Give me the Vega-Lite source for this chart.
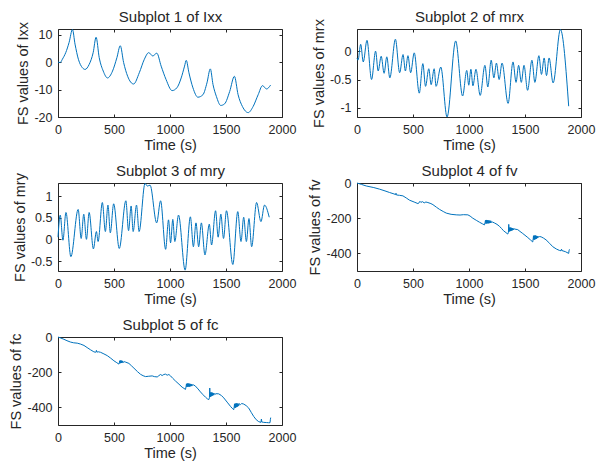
{
  "$schema": "https://vega.github.io/schema/vega-lite/v6.json",
  "padding": {"left": 8, "top": 9, "right": 5, "bottom": 0},
  "background": "white",
  "datasets": {
    "lxx": [
      {"t":0,"v":0},{"t":20,"v":-0.2},{"t":39,"v":1.0},{"t":69,"v":3.4},{"t":99,"v":7.1},{"t":129,"v":11.8},{"t":152,"v":6.5},{"t":182,"v":1.0},{"t":218,"v":-2.1},{"t":242,"v":-2.7},{"t":278,"v":-0.9},{"t":314,"v":3.4},{"t":340,"v":9.0},{"t":368,"v":1.6},{"t":404,"v":-3.3},{"t":442,"v":-5.8},{"t":487,"v":-3.3},{"t":526,"v":1.6},{"t":556,"v":5.9},{"t":586,"v":-0.2},{"t":622,"v":-5.2},{"t":675,"v":-8.0},{"t":726,"v":-3.9},{"t":771,"v":1.0},{"t":810,"v":3.4},{"t":846,"v":2.2},{"t":882,"v":3.2},{"t":921,"v":-1.5},{"t":965,"v":-6.4},{"t":1019,"v":-10.4},{"t":1061,"v":-9.4},{"t":1100,"v":-5.8},{"t":1130,"v":-1.5},{"t":1145,"v":0.6},{"t":1169,"v":-3.9},{"t":1205,"v":-9.4},{"t":1249,"v":-12.8},{"t":1294,"v":-11.9},{"t":1330,"v":-7.6},{"t":1360,"v":-2.5},{"t":1384,"v":-8.2},{"t":1414,"v":-12.5},{"t":1453,"v":-15.8},{"t":1488,"v":-15.2},{"t":1533,"v":-10.7},{"t":1575,"v":-5.2},{"t":1608,"v":-11.9},{"t":1647,"v":-16.2},{"t":1698,"v":-18.4},{"t":1742,"v":-16.2},{"t":1787,"v":-11.9},{"t":1826,"v":-8.6},{"t":1862,"v":-9.8},{"t":1898,"v":-8.4}
    ],
    "mrx": [
      {"t":0,"v":-0.12},{"t":9,"v":-0.16},{"t":33,"v":0.12},{"t":56,"v":-0.19},{"t":89,"v":0.19},{"t":130,"v":-0.5},{"t":166,"v":0},{"t":189,"v":-0.35},{"t":216,"v":-0.09},{"t":242,"v":-0.39},{"t":266,"v":-0.1},{"t":293,"v":-0.47},{"t":343,"v":0.21},{"t":381,"v":-0.38},{"t":411,"v":-0.06},{"t":432,"v":-0.35},{"t":455,"v":-0.08},{"t":479,"v":-0.38},{"t":511,"v":-0.03},{"t":556,"v":-0.74},{"t":588,"v":-0.22},{"t":612,"v":-0.62},{"t":641,"v":-0.31},{"t":662,"v":-0.59},{"t":689,"v":-0.31},{"t":706,"v":-0.62},{"t":748,"v":-0.28},{"t":804,"v":-1.16},{"t":881,"v":0.18},{"t":943,"v":-0.79},{"t":980,"v":-0.34},{"t":998,"v":-0.6},{"t":1017,"v":-0.32},{"t":1035,"v":-0.61},{"t":1062,"v":-0.32},{"t":1100,"v":-0.78},{"t":1142,"v":-0.25},{"t":1168,"v":-0.63},{"t":1198,"v":-0.16},{"t":1222,"v":-0.47},{"t":1245,"v":-0.21},{"t":1269,"v":-0.5},{"t":1295,"v":-0.21},{"t":1349,"v":-0.92},{"t":1393,"v":-0.19},{"t":1420,"v":-0.55},{"t":1443,"v":-0.25},{"t":1467,"v":-0.55},{"t":1491,"v":-0.25},{"t":1523,"v":-0.69},{"t":1562,"v":-0.16},{"t":1588,"v":-0.55},{"t":1624,"v":-0.08},{"t":1647,"v":-0.41},{"t":1671,"v":-0.12},{"t":1692,"v":-0.43},{"t":1715,"v":-0.12},{"t":1751,"v":-0.56},{"t":1816,"v":0.38},{"t":1890,"v":-0.97}
    ],
    "mry": [
      {"t":0,"v":0.05},{"t":20,"v":0.56},{"t":44,"v":-0.02},{"t":71,"v":0.62},{"t":115,"v":-0.4},{"t":180,"v":0.69},{"t":207,"v":0.02},{"t":230,"v":0.58},{"t":254,"v":0},{"t":278,"v":0.62},{"t":316,"v":-0.22},{"t":343,"v":0.18},{"t":358,"v":-0.05},{"t":396,"v":0.85},{"t":423,"v":0.18},{"t":446,"v":0.79},{"t":467,"v":0.15},{"t":497,"v":0.82},{"t":547,"v":-0.21},{"t":606,"v":0.89},{"t":630,"v":0.2},{"t":653,"v":0.77},{"t":671,"v":0.18},{"t":701,"v":0.79},{"t":724,"v":0.18},{"t":777,"v":1.29},{"t":798,"v":1.23},{"t":822,"v":1.25},{"t":881,"v":0.38},{"t":916,"v":0.89},{"t":961,"v":-0.23},{"t":987,"v":0.45},{"t":1005,"v":-0.08},{"t":1025,"v":0.46},{"t":1043,"v":-0.05},{"t":1076,"v":0.56},{"t":1135,"v":-0.71},{"t":1182,"v":0.52},{"t":1209,"v":-0.17},{"t":1232,"v":0.38},{"t":1256,"v":-0.17},{"t":1280,"v":0.38},{"t":1312,"v":-0.36},{"t":1351,"v":0.35},{"t":1371,"v":-0.13},{"t":1407,"v":0.66},{"t":1430,"v":0.05},{"t":1454,"v":0.58},{"t":1478,"v":0.02},{"t":1504,"v":0.66},{"t":1561,"v":-0.58},{"t":1605,"v":0.64},{"t":1634,"v":-0.05},{"t":1658,"v":0.51},{"t":1682,"v":-0.05},{"t":1705,"v":0.48},{"t":1729,"v":-0.17},{"t":1773,"v":0.85},{"t":1812,"v":0.41},{"t":1844,"v":0.79},{"t":1886,"v":0.51}
    ],
    "fv": [
      {"t":0,"v":0},{"t":40,"v":-8},{"t":83,"v":-17},{"t":150,"v":-26},{"t":202,"v":-35},{"t":250,"v":-45},{"t":291,"v":-54},{"t":330,"v":-62},{"t":345,"v":-66},{"t":348,"v":-58},{"t":352,"v":-68},{"t":380,"v":-70},{"t":410,"v":-73},{"t":440,"v":-85},{"t":470,"v":-98},{"t":510,"v":-108},{"t":544,"v":-117},{"t":555,"v":-112},{"t":562,"v":-104},{"t":570,"v":-110},{"t":585,"v":-106},{"t":600,"v":-113},{"t":615,"v":-108},{"t":633,"v":-111},{"t":660,"v":-117},{"t":678,"v":-123},{"t":710,"v":-138},{"t":737,"v":-150},{"t":770,"v":-162},{"t":797,"v":-171},{"t":840,"v":-178},{"t":886,"v":-181},{"t":920,"v":-182},{"t":950,"v":-180},{"t":990,"v":-181},{"t":1010,"v":-188},{"t":1034,"v":-200},{"t":1065,"v":-212},{"t":1094,"v":-223},{"t":1120,"v":-232},{"t":1138,"v":-238},{"t":1143,"v":-226},{"t":1147,"v":-212},{"t":1151,"v":-231},{"t":1155,"v":-210},{"t":1159,"v":-230},{"t":1163,"v":-211},{"t":1167,"v":-229},{"t":1171,"v":-212},{"t":1175,"v":-229},{"t":1179,"v":-213},{"t":1183,"v":-228},{"t":1187,"v":-214},{"t":1191,"v":-227},{"t":1195,"v":-215},{"t":1200,"v":-224},{"t":1210,"v":-222},{"t":1227,"v":-227},{"t":1250,"v":-235},{"t":1272,"v":-246},{"t":1290,"v":-258},{"t":1308,"v":-271},{"t":1330,"v":-282},{"t":1346,"v":-290},{"t":1352,"v":-280},{"t":1355,"v":-235},{"t":1358,"v":-276},{"t":1361,"v":-254},{"t":1364,"v":-274},{"t":1367,"v":-253},{"t":1370,"v":-273},{"t":1373,"v":-254},{"t":1376,"v":-271},{"t":1379,"v":-255},{"t":1382,"v":-270},{"t":1385,"v":-256},{"t":1388,"v":-268},{"t":1392,"v":-257},{"t":1396,"v":-266},{"t":1400,"v":-260},{"t":1410,"v":-262},{"t":1435,"v":-265},{"t":1455,"v":-275},{"t":1480,"v":-287},{"t":1500,"v":-297},{"t":1525,"v":-310},{"t":1550,"v":-324},{"t":1569,"v":-335},{"t":1573,"v":-318},{"t":1576,"v":-300},{"t":1579,"v":-322},{"t":1582,"v":-299},{"t":1585,"v":-321},{"t":1588,"v":-299},{"t":1591,"v":-320},{"t":1594,"v":-299},{"t":1597,"v":-318},{"t":1600,"v":-300},{"t":1603,"v":-316},{"t":1607,"v":-301},{"t":1611,"v":-313},{"t":1616,"v":-302},{"t":1622,"v":-309},{"t":1630,"v":-304},{"t":1644,"v":-306},{"t":1665,"v":-313},{"t":1688,"v":-323},{"t":1720,"v":-343},{"t":1748,"v":-362},{"t":1780,"v":-375},{"t":1807,"v":-383},{"t":1822,"v":-385},{"t":1826,"v":-376},{"t":1830,"v":-384},{"t":1860,"v":-390},{"t":1890,"v":-400},{"t":1893,"v":-385},{"t":1897,"v":-377}
    ],
    "fc": [
      {"t":0,"v":0},{"t":25,"v":-6},{"t":53,"v":-13},{"t":80,"v":-21},{"t":113,"v":-29},{"t":140,"v":-33},{"t":172,"v":-35},{"t":200,"v":-40},{"t":232,"v":-48},{"t":260,"v":-60},{"t":291,"v":-73},{"t":320,"v":-84},{"t":336,"v":-87},{"t":340,"v":-82},{"t":343,"v":-76},{"t":347,"v":-86},{"t":360,"v":-84},{"t":380,"v":-87},{"t":410,"v":-96},{"t":440,"v":-106},{"t":470,"v":-120},{"t":499,"v":-135},{"t":525,"v":-146},{"t":544,"v":-154},{"t":548,"v":-146},{"t":551,"v":-135},{"t":554,"v":-149},{"t":557,"v":-134},{"t":560,"v":-148},{"t":563,"v":-134},{"t":566,"v":-147},{"t":569,"v":-135},{"t":572,"v":-147},{"t":575,"v":-136},{"t":580,"v":-145},{"t":590,"v":-140},{"t":605,"v":-143},{"t":633,"v":-150},{"t":655,"v":-163},{"t":678,"v":-177},{"t":710,"v":-197},{"t":737,"v":-212},{"t":760,"v":-220},{"t":782,"v":-225},{"t":810,"v":-223},{"t":841,"v":-221},{"t":860,"v":-225},{"t":886,"v":-227},{"t":900,"v":-220},{"t":915,"v":-213},{"t":930,"v":-219},{"t":945,"v":-213},{"t":960,"v":-211},{"t":975,"v":-217},{"t":990,"v":-213},{"t":1005,"v":-221},{"t":1025,"v":-235},{"t":1049,"v":-250},{"t":1080,"v":-268},{"t":1108,"v":-285},{"t":1125,"v":-292},{"t":1138,"v":-298},{"t":1143,"v":-284},{"t":1147,"v":-266},{"t":1151,"v":-284},{"t":1155,"v":-264},{"t":1159,"v":-283},{"t":1163,"v":-264},{"t":1167,"v":-282},{"t":1171,"v":-265},{"t":1175,"v":-282},{"t":1179,"v":-266},{"t":1183,"v":-280},{"t":1187,"v":-267},{"t":1191,"v":-279},{"t":1196,"v":-268},{"t":1202,"v":-276},{"t":1210,"v":-272},{"t":1227,"v":-279},{"t":1250,"v":-295},{"t":1272,"v":-312},{"t":1295,"v":-328},{"t":1317,"v":-342},{"t":1335,"v":-352},{"t":1346,"v":-356},{"t":1352,"v":-345},{"t":1355,"v":-290},{"t":1358,"v":-341},{"t":1361,"v":-316},{"t":1364,"v":-338},{"t":1367,"v":-315},{"t":1370,"v":-336},{"t":1373,"v":-316},{"t":1376,"v":-334},{"t":1379,"v":-317},{"t":1382,"v":-332},{"t":1385,"v":-318},{"t":1389,"v":-330},{"t":1394,"v":-320},{"t":1400,"v":-327},{"t":1410,"v":-322},{"t":1435,"v":-323},{"t":1460,"v":-333},{"t":1480,"v":-346},{"t":1510,"v":-370},{"t":1540,"v":-394},{"t":1555,"v":-405},{"t":1569,"v":-413},{"t":1573,"v":-398},{"t":1576,"v":-380},{"t":1579,"v":-402},{"t":1582,"v":-379},{"t":1585,"v":-401},{"t":1588,"v":-378},{"t":1591,"v":-399},{"t":1594,"v":-378},{"t":1597,"v":-397},{"t":1600,"v":-378},{"t":1604,"v":-395},{"t":1608,"v":-378},{"t":1613,"v":-391},{"t":1620,"v":-379},{"t":1630,"v":-384},{"t":1640,"v":-378},{"t":1658,"v":-381},{"t":1680,"v":-390},{"t":1703,"v":-404},{"t":1725,"v":-428},{"t":1748,"v":-452},{"t":1770,"v":-470},{"t":1792,"v":-481},{"t":1812,"v":-485},{"t":1816,"v":-466},{"t":1820,"v":-483},{"t":1837,"v":-485},{"t":1860,"v":-486},{"t":1880,"v":-487},{"t":1893,"v":-487},{"t":1896,"v":-470},{"t":1899,"v":-458}
    ]
  },
  "config": {
    "font": "Liberation Sans",
    "view": {"stroke": "#262626", "strokeWidth": 1},
    "axis": {
      "grid": false,
      "domain": false,
      "tickColor": "#262626",
      "tickSize": -3,
      "labelPadding": 9,
      "labelFlush": false,
      "labelOverlap": false,
      "labelColor": "#262626",
      "labelFontSize": 12.5,
      "labelFont": "Liberation Sans",
      "titleFont": "Liberation Sans",
      "titleFontSize": 14.5,
      "titleFontWeight": "normal",
      "titleColor": "#262626",
      "titlePadding": 3,
      "labelExpr": "toString(datum.value)"
    },
    "axisTop": {"labels": false, "titleFontSize": 15, "titlePadding": 4},
    "axisRight": {"labels": false},
    "line": {"color": "#0072BD", "strokeWidth": 1, "clip": true}
  },
  "columns": 2,
  "bounds": "flush",
  "spacing": {"row": 66, "column": 75},
  "concat": [
    {
      "data": {"name": "lxx"},
      "width": 224, "height": 88,
      "resolve": {"axis": {"x": "independent", "y": "independent"}},
      "layer": [
        {
          "mark": {"type": "line", "interpolate": "monotone"},
          "encoding": {
            "x": {"field": "t", "type": "quantitative", "scale": {"domain": [0, 2000], "nice": false}, "axis": {"values": [0, 500, 1000, 1500, 2000], "title": "Time (s)"}},
            "y": {"field": "v", "type": "quantitative", "scale": {"domain": [-20, 12], "nice": false, "zero": false}, "axis": {"values": [-20, -10, 0, 10], "title": "FS values of Ixx"}}
          }
        },
        {
          "mark": {"type": "line", "opacity": 0},
          "encoding": {
            "x": {"field": "t", "type": "quantitative", "scale": {"domain": [0, 2000], "nice": false}, "axis": {"orient": "top", "values": [0, 500, 1000, 1500, 2000], "title": "Subplot 1 of Ixx"}},
            "y": {"field": "v", "type": "quantitative", "scale": {"domain": [-20, 12], "nice": false, "zero": false}, "axis": {"orient": "right", "values": [-20, -10, 0, 10], "title": null}}
          }
        }
      ]
    },
    {
      "data": {"name": "mrx"},
      "width": 224, "height": 88,
      "resolve": {"axis": {"x": "independent", "y": "independent"}},
      "layer": [
        {
          "mark": {"type": "line", "interpolate": "monotone"},
          "encoding": {
            "x": {"field": "t", "type": "quantitative", "scale": {"domain": [0, 2000], "nice": false}, "axis": {"values": [0, 500, 1000, 1500, 2000], "title": "Time (s)"}},
            "y": {"field": "v", "type": "quantitative", "scale": {"domain": [-1.16, 0.39], "nice": false, "zero": false}, "axis": {"values": [-1, -0.5, 0], "title": "FS values of mrx"}}
          }
        },
        {
          "mark": {"type": "line", "opacity": 0},
          "encoding": {
            "x": {"field": "t", "type": "quantitative", "scale": {"domain": [0, 2000], "nice": false}, "axis": {"orient": "top", "values": [0, 500, 1000, 1500, 2000], "title": "Subplot 2 of mrx"}},
            "y": {"field": "v", "type": "quantitative", "scale": {"domain": [-1.16, 0.39], "nice": false, "zero": false}, "axis": {"orient": "right", "values": [-1, -0.5, 0], "title": null}}
          }
        }
      ]
    },
    {
      "data": {"name": "mry"},
      "width": 224, "height": 88,
      "resolve": {"axis": {"x": "independent", "y": "independent"}},
      "layer": [
        {
          "mark": {"type": "line", "interpolate": "monotone"},
          "encoding": {
            "x": {"field": "t", "type": "quantitative", "scale": {"domain": [0, 2000], "nice": false}, "axis": {"values": [0, 500, 1000, 1500, 2000], "title": "Time (s)"}},
            "y": {"field": "v", "type": "quantitative", "scale": {"domain": [-0.73, 1.3], "nice": false, "zero": false}, "axis": {"values": [-0.5, 0, 0.5, 1], "title": "FS values of mry"}}
          }
        },
        {
          "mark": {"type": "line", "opacity": 0},
          "encoding": {
            "x": {"field": "t", "type": "quantitative", "scale": {"domain": [0, 2000], "nice": false}, "axis": {"orient": "top", "values": [0, 500, 1000, 1500, 2000], "title": "Subplot 3 of mry"}},
            "y": {"field": "v", "type": "quantitative", "scale": {"domain": [-0.73, 1.3], "nice": false, "zero": false}, "axis": {"orient": "right", "values": [-0.5, 0, 0.5, 1], "title": null}}
          }
        }
      ]
    },
    {
      "data": {"name": "fv"},
      "width": 224, "height": 88,
      "resolve": {"axis": {"x": "independent", "y": "independent"}},
      "layer": [
        {
          "mark": {"type": "line"},
          "encoding": {
            "x": {"field": "t", "type": "quantitative", "scale": {"domain": [0, 2000], "nice": false}, "axis": {"values": [0, 500, 1000, 1500, 2000], "title": "Time (s)"}},
            "y": {"field": "v", "type": "quantitative", "scale": {"domain": [-500, 0], "nice": false, "zero": false}, "axis": {"values": [-400, -200, 0], "title": "FS values of fv"}}
          }
        },
        {
          "mark": {"type": "line", "opacity": 0},
          "encoding": {
            "x": {"field": "t", "type": "quantitative", "scale": {"domain": [0, 2000], "nice": false}, "axis": {"orient": "top", "values": [0, 500, 1000, 1500, 2000], "title": "Subplot 4 of fv"}},
            "y": {"field": "v", "type": "quantitative", "scale": {"domain": [-500, 0], "nice": false, "zero": false}, "axis": {"orient": "right", "values": [-400, -200, 0], "title": null}}
          }
        }
      ]
    },
    {
      "data": {"name": "fc"},
      "width": 224, "height": 88,
      "resolve": {"axis": {"x": "independent", "y": "independent"}},
      "layer": [
        {
          "mark": {"type": "line"},
          "encoding": {
            "x": {"field": "t", "type": "quantitative", "scale": {"domain": [0, 2000], "nice": false}, "axis": {"values": [0, 500, 1000, 1500, 2000], "title": "Time (s)"}},
            "y": {"field": "v", "type": "quantitative", "scale": {"domain": [-500, 0], "nice": false, "zero": false}, "axis": {"values": [-400, -200, 0], "title": "FS values of fc"}}
          }
        },
        {
          "mark": {"type": "line", "opacity": 0},
          "encoding": {
            "x": {"field": "t", "type": "quantitative", "scale": {"domain": [0, 2000], "nice": false}, "axis": {"orient": "top", "values": [0, 500, 1000, 1500, 2000], "title": "Subplot 5 of fc"}},
            "y": {"field": "v", "type": "quantitative", "scale": {"domain": [-500, 0], "nice": false, "zero": false}, "axis": {"orient": "right", "values": [-400, -200, 0], "title": null}}
          }
        }
      ]
    }
  ]
}
